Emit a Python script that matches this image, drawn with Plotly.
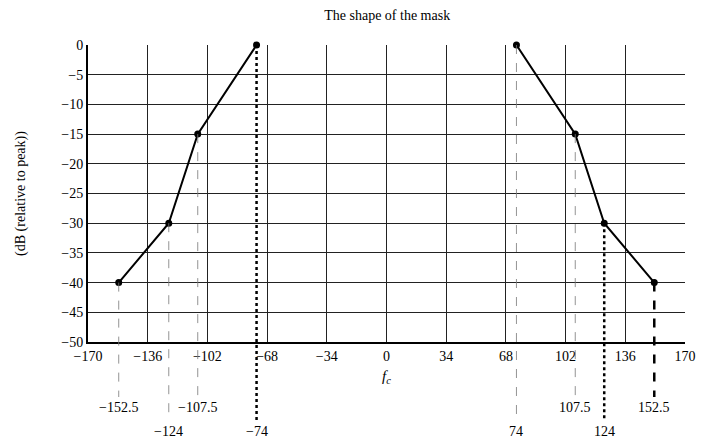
import plotly.graph_objects as go

# Data
mask_x = [-152.5, -124, -107.5, -74, None, 74, 107.5, 124, 152.5]
mask_y = [-40, -30, -15, 0, None, 0, -15, -30, -40]

x_ticks = [-170, -136, -102, -68, -34, 0, 34, 68, 102, 136, 170]
x_tick_labels = ["\u2212170", "\u2212136", "\u2212102", "\u221268", "\u221234", "0", "34", "68", "102", "136", "170"]
y_ticks = [0, -5, -10, -15, -20, -25, -30, -35, -40, -45, -50]
y_tick_labels = ["0", "\u22125", "\u221210", "\u221215", "\u221220", "\u221225", "\u221230", "\u221235", "\u221240", "\u221245", "\u221250"]

drop_x = [-152.5, -124, -107.5, -74, 74, 107.5, 124, 152.5]
drop_y = [-40, -30, -15, 0, 0, -15, -30, -40]
drop_labels = ["\u2212152.5", "\u2212124", "\u2212107.5", "\u221274", "74", "107.5", "124", "152.5"]
drop_level = [0, 1, 0, 1, 1, 0, 1, 0]  # 0 = upper label row, 1 = lower label row
drop_style = ["light", "light", "light", "dark", "light", "light", "dark", "darkdash"]

FONT = "Liberation Serif, Times New Roman, serif"

fig = go.Figure()
fig.add_trace(go.Scatter(
    x=mask_x, y=mask_y, mode="lines+markers",
    line=dict(color="black", width=2),
    marker=dict(color="black", size=7),
    cliponaxis=False, showlegend=False, connectgaps=False,
))

Y0, Y1 = -50, 0
top_px = 45
plot_h = 297.0
label_py = [407, 431]   # pixel rows relative to top of figure
line_end_py = [397, 421]

def py_to_paper(py):
    return (top_px + plot_h - py) / plot_h

for x, y, lab, lev, sty in zip(drop_x, drop_y, drop_labels, drop_level, drop_style):
    y_top = (y - Y0) / (Y1 - Y0)
    if sty == "light":
        ln = dict(color="rgba(120,120,120,0.8)", width=1, dash="dash")
    elif sty == "dark":
        ln = dict(color="black", width=2.5, dash="dot")
    else:
        ln = dict(color="black", width=2.5, dash="dash")
    fig.add_shape(type="line", xref="x", yref="paper",
                  x0=x, x1=x, y0=y_top, y1=py_to_paper(line_end_py[lev]),
                  line=ln, layer="above")
    fig.add_annotation(x=x, xref="x", y=py_to_paper(label_py[lev]), yref="paper",
                       text=lab, showarrow=False, yanchor="middle", xanchor="center",
                       font=dict(family=FONT, size=14, color="black"))

fig.update_layout(
    width=704, height=442,
    margin=dict(l=88, r=19, t=top_px, b=442 - top_px - int(plot_h)),
    paper_bgcolor="white", plot_bgcolor="white",
    font=dict(family=FONT, size=14, color="black"),
    title=dict(text="The shape of the mask", x=0.55, xanchor="center",
               y=0.966, yanchor="middle", font=dict(family=FONT, size=14)),
    xaxis=dict(range=[-170, 170], tickvals=x_ticks, ticktext=x_tick_labels,
               showgrid=True, gridcolor="#222", gridwidth=1.3,
               showline=True, linecolor="black", linewidth=2,
               ticks="", zeroline=False, automargin=False,
               tickfont=dict(family=FONT, size=14),
               title=dict(text="<i>f</i><sub><i>c</i></sub>", standoff=8,
                          font=dict(family=FONT, size=15))),
    yaxis=dict(range=[-50, 0], tickvals=y_ticks, ticktext=y_tick_labels,
               showgrid=True, gridcolor="#222", gridwidth=1.3,
               showline=True, linecolor="black", linewidth=2,
               ticks="", zeroline=False, automargin=False,
               tickfont=dict(family=FONT, size=14),
               title=dict(text="(dB (relative to peak))", standoff=32,
                          font=dict(family=FONT, size=14))),
)

fig.write_html("out.html", config={"displayModeBar": False},
               post_script="document.body.style.margin='0px';document.body.style.overflow='hidden';")
